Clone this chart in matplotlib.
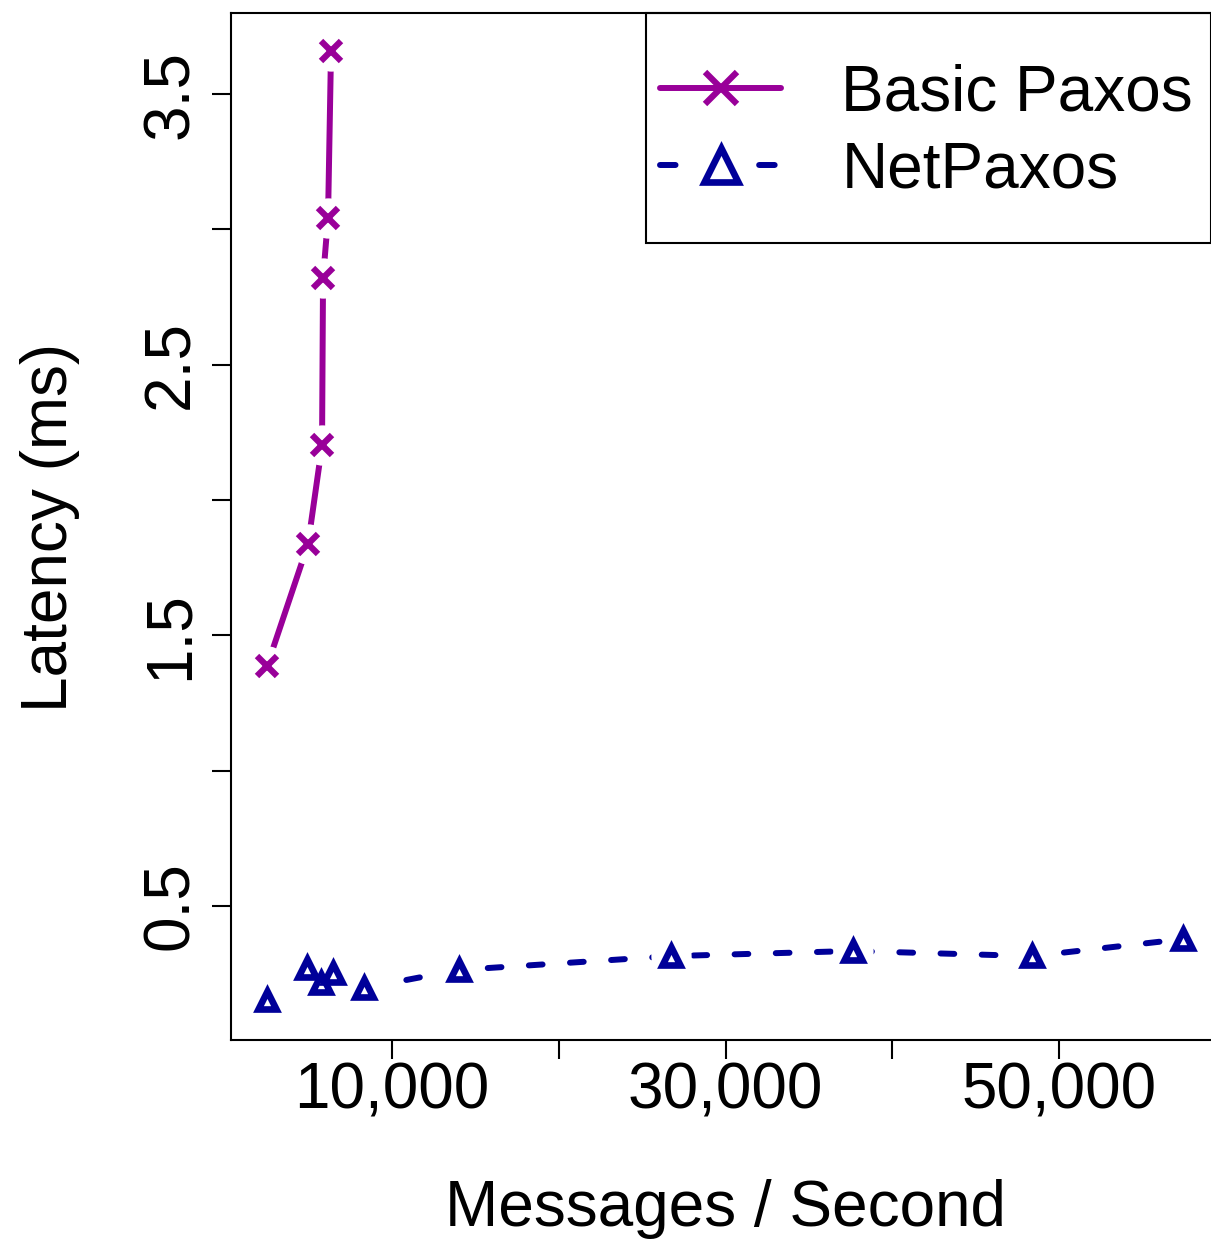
import matplotlib
matplotlib.use("Agg")
import matplotlib.pyplot as plt
from matplotlib.patches import Rectangle
from matplotlib.lines import Line2D

plt.rcParams['font.family'] = ['Liberation Sans', 'DejaVu Sans']

# Data
basic_x = [2500, 4960, 5800, 5860, 6160, 6340]
basic_y = [1.386, 1.837, 2.202, 2.819, 3.044, 3.661]
net_x = [2500, 4900, 5740, 6460, 8320, 14020, 26740, 37660, 48400, 57460]
net_y = [0.153, 0.271, 0.216, 0.253, 0.197, 0.264, 0.315, 0.334, 0.315, 0.378]

xticks = [10000, 20000, 30000, 40000, 50000]
xticklabels = ["10,000", "", "30,000", "", "50,000"]
yticks = [0.5, 1.0, 1.5, 2.0, 2.5, 3.0, 3.5]
yticklabels = ["0.5", "", "1.5", "", "2.5", "", "3.5"]

PURPLE = "#990099"
BLUE = "#000099"
FS = 46

fig = plt.figure(figsize=(12.11, 12.39), dpi=100)
ax = fig.add_axes([231/1211, (1239-1040)/1239, 980/1211, 1027/1239])

lw = 4.3
ax.plot(basic_x, basic_y, color=PURPLE, lw=lw, solid_capstyle='round', zorder=2)
ax.plot(net_x, net_y, color=BLUE, lw=lw, linestyle=(0, (2.3, 4.6)),
        dash_capstyle='round', zorder=2)
# gaps around points (type="b" style)
ax.plot(basic_x + net_x, basic_y + net_y, linestyle='none', marker='o',
        markersize=29, markerfacecolor='white', markeredgecolor='white',
        markeredgewidth=0, zorder=3)
ax.plot(basic_x, basic_y, linestyle='none', marker='x', markersize=15,
        markeredgewidth=4.5, color=PURPLE, zorder=4)
ax.plot(net_x, net_y, linestyle='none', marker='^', markersize=13.5,
        markeredgewidth=4.8, markerfacecolor='none', markeredgecolor=BLUE,
        zorder=4)

ax.set_xlim(340, 59118)
ax.set_ylim(0.005, 3.80)

ax.set_xticks(xticks)
ax.set_xticklabels(xticklabels)
ax.set_yticks(yticks)
ax.set_yticklabels(yticklabels, rotation=90, va='center')
ax.tick_params(axis='both', direction='out', length=13.7, width=1.5,
               labelsize=FS, color='black')
ax.tick_params(axis='x', pad=2)
ax.tick_params(axis='y', pad=8)
for s in ['left', 'top', 'bottom']:
    ax.spines[s].set_linewidth(1.5)
ax.spines['right'].set_visible(False)

fig.text(725/1211, 1 - 1209/1239, "Messages / Second", fontsize=FS,
         ha='center', va='center')
fig.text(50/1211, 1 - 527/1239, "Latency (ms)", fontsize=FS,
         ha='center', va='center', rotation=90)

# Legend
h1 = Line2D([], [], color=PURPLE, lw=lw, marker='x', markersize=23,
            markeredgewidth=4.5, solid_capstyle='round')
h2 = Line2D([], [], color=BLUE, lw=lw, linestyle=(0, (2.6, 14.0)),
            dash_capstyle='round', marker='^', markersize=25,
            markeredgewidth=4.8, markerfacecolor='none')
leg = ax.legend([h1, h2], ["Basic Paxos", "NetPaxos"], loc='center left',
                bbox_to_anchor=((660-231)/980, (1040-132)/1027),
                frameon=False, fontsize=FS, borderpad=0, borderaxespad=0,
                handlelength=1.9, handletextpad=0.94, labelspacing=0.26)
ax.add_patch(Rectangle(((646-231)/980, (1040-243)/1027), 1.0 - (646-231)/980,
                       1.0 - (1040-243)/1027, transform=ax.transAxes,
                       fill=False, edgecolor='black', lw=1.5, clip_on=False,
                       zorder=5))

fig.savefig("out.png", dpi=100)
